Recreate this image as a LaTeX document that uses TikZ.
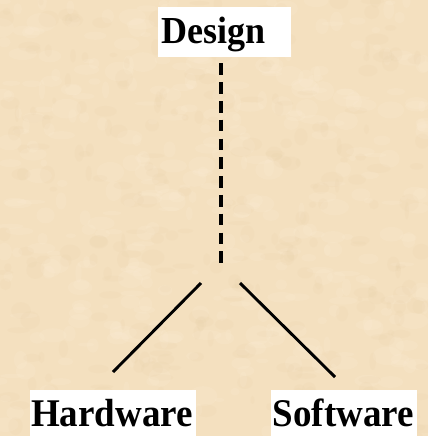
\documentclass[tikz,border=0pt]{standalone}
\usepackage{fontspec}
\setmainfont{Liberation Serif}
\definecolor{parch}{RGB}{244,224,191}
\definecolor{parchlight}{RGB}{251,236,212}
\definecolor{parchdark}{RGB}{230,206,166}
\begin{document}
\begin{tikzpicture}[x=1pt,y=-1pt,
  labelbox/.style={fill=white, anchor=north west, inner xsep=1.5pt, inner ysep=0pt,
    align=left, font=\bfseries\fontsize{37}{40}\selectfont, text height=36pt, text depth=10pt},
  link/.style={line width=2.9pt, black},
  dashlink/.style={link, line width=3.1pt, dash pattern=on 11.7pt off 7.1pt}
]
\useasboundingbox (0,0) rectangle (428,436);
\fill[parch] (0,0) rectangle (428,436);
\begin{scope}
  \clip (0,0) rectangle (428,436);
  \pgfmathsetseed{11}
  \foreach \i in {1,...,420}{
    \pgfmathsetmacro\xx{rnd*428}
    \pgfmathsetmacro\yy{rnd*436}
    \pgfmathsetmacro\ra{3+rnd*12}
    \pgfmathsetmacro\rb{2+rnd*8}
    \fill[parchlight, opacity=0.22] (\xx,\yy) ellipse [x radius=\ra, y radius=\rb];
  }
  \foreach \i in {1,...,300}{
    \pgfmathsetmacro\xx{rnd*428}
    \pgfmathsetmacro\yy{rnd*436}
    \pgfmathsetmacro\ra{2+rnd*10}
    \pgfmathsetmacro\rb{2+rnd*7}
    \fill[parchdark, opacity=0.12] (\xx,\yy) ellipse [x radius=\ra, y radius=\rb];
  }
\end{scope}
\node[labelbox, inner xsep=3pt, text width=127pt, text depth=14pt,
      font=\bfseries\fontsize{36}{40}\selectfont] (design) at (158,7) {\scalebox{1}[1.06]{Design}};
\node[labelbox, text width=163.5pt] (hardware) at (29.3,390) {\scalebox{1}[1.06]{Hardware}};
\node[labelbox, text width=143pt] (software) at (271,390) {\scalebox{1}[1.06]{Software}};
\coordinate (dtop) at (221,63.3);
\coordinate (junc) at (221,263.5);
\coordinate (lstart) at (201,283);
\coordinate (lend) at (113,372);
\coordinate (rstart) at (240,283);
\coordinate (rend) at (335,377);
\draw[dashlink] (dtop) -- (junc);
\draw[link] (lstart) -- (lend);
\draw[link] (rstart) -- (rend);
\end{tikzpicture}
\end{document}
